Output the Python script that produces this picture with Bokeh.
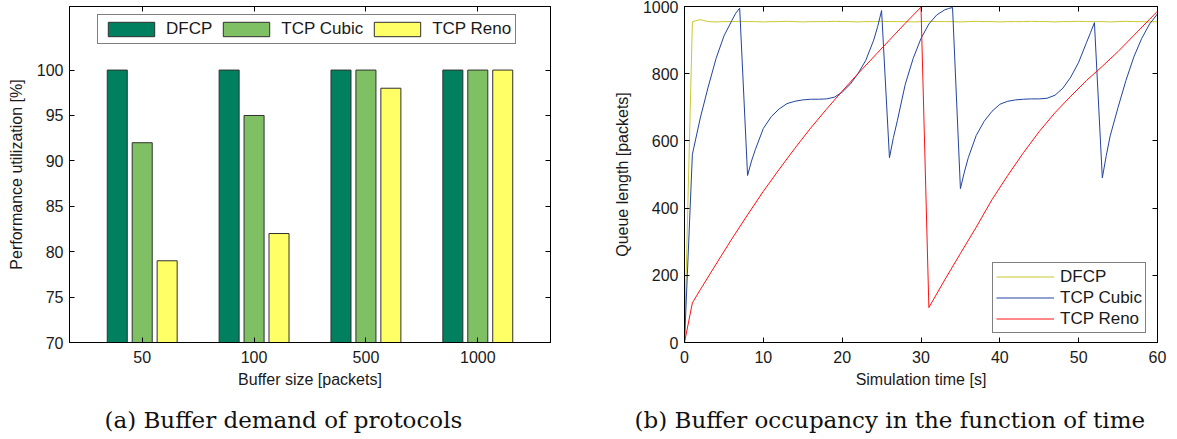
import numpy as np
from bokeh.plotting import figure
from bokeh.models import (FixedTicker, LinearAxis, Range1d, ColumnDataSource, Label)
from bokeh.layouts import row, column
from bokeh.transform import dodge
from bokeh.embed import file_html
from bokeh.resources import INLINE

# ---------------- data: panel (a) ----------------
buffer_sizes = ["50", "100", "500", "1000"]
dfcp_util = [100, 100, 100, 100]
cubic_util = [92, 95, 100, 100]
reno_util = [79, 82, 98, 100]

# ---------------- data: panel (b) ----------------
dfcp_time = [0, 1, 2, 3, 4, 5, 6, 7, 8, 9, 10, 11, 12, 13, 14, 15, 16, 17, 18, 19, 20,
             21, 22, 23, 24, 25, 26, 27, 28, 29, 30, 31, 32, 33, 34, 35, 36, 37, 38, 39, 40,
             41, 42, 43, 44, 45, 46, 47, 48, 49, 50, 51, 52, 53, 54, 55, 56, 57, 58, 59, 60]
dfcp_queue = [0, 955, 961, 955, 954, 955, 955, 956, 955, 955, 954, 955, 955, 956, 955, 954,
              955, 955, 955, 956, 955, 955, 954, 955, 955, 956, 955, 955, 955, 954, 955,
              956, 955, 955, 955, 954, 955, 956, 955, 955, 954, 955, 955, 955, 956, 955,
              955, 954, 955, 955, 956, 955, 955, 955, 954, 955, 956, 955, 955, 954, 955]

cubic_time = [0, 1, 2, 3, 4, 5, 6, 6.5, 7, 8, 8.5, 9, 10, 11, 12, 13, 14, 15, 16, 17, 18,
              19, 20, 21, 22, 23, 24, 24.5, 25, 26, 26.5, 27, 28, 29, 30, 31, 32, 33, 33.5,
              34, 35, 35.5, 36, 37, 38, 39, 40, 41, 42, 43, 44, 45, 46, 47, 48, 49, 50, 51,
              51.5, 52, 53, 53.5, 54, 55, 56, 57, 58, 59, 60]
cubic_queue = [0, 560, 668, 760, 845, 912, 958, 980, 995, 497, 540, 575, 637, 672, 695, 711,
               718, 722, 724, 724, 725, 730, 745, 768, 800, 840, 900, 940, 988, 550, 610,
               660, 768, 845, 905, 948, 975, 990, 994, 997, 458, 507, 550, 616, 658, 688,
               709, 718, 722, 724, 725, 725, 727, 736, 757, 790, 834, 893, 922, 952, 490,
               556, 615, 700, 780, 850, 905, 948, 978]

reno_time = [0, 1, 2, 4, 6, 8, 10, 12, 14, 16, 18, 20, 22, 24, 26, 28, 30, 31, 33, 35, 37,
             39, 41, 43, 45, 47, 49, 51, 53, 55, 57, 59, 60]
reno_queue = [0, 118, 157, 233, 308, 380, 450, 515, 578, 638, 694, 748, 800, 850, 900, 950,
              998, 104, 186, 265, 343, 425, 497, 565, 628, 684, 733, 780, 822, 866, 914,
              962, 986]

captions = ["(a) Buffer demand of protocols", "(b) Buffer occupancy in the function of time"]

# ---------------- styles ----------------
FONT = "Liberation Sans"
SERIF = "DejaVu Serif"
TXT = "#1a1a1a"
C_DFCP_BAR = "#00805f"
C_CUBIC_BAR = "#80c064"
C_RENO_BAR = "#ffff66"
C_DFCP_LINE = "#c8c832"
C_CUBIC_LINE = "#2243a0"
C_RENO_LINE = "#ff1010"

W1, W2 = 605, 564
PANEL_BOTTOM = 58
CAP_H = 439 - (6 + 336 + PANEL_BOTTOM)


def style_axes(p):
    p.grid.visible = False
    p.outline_line_color = "black"
    p.outline_line_width = 1
    p.background_fill_color = "white"
    p.border_fill_color = "white"
    for ax in p.below + p.left:
        ax.major_tick_in = 5
        ax.major_tick_out = 0
        ax.minor_tick_in = 0
        ax.minor_tick_out = 0
        ax.axis_line_color = "black"
        ax.major_tick_line_color = "black"
        ax.major_label_text_font = FONT
        ax.major_label_text_font_size = "16px"
        ax.major_label_text_color = TXT
        ax.axis_label_text_font = FONT
        ax.axis_label_text_font_size = "16px"
        ax.axis_label_text_font_style = "normal"
        ax.axis_label_text_color = TXT
    for ax in p.below:
        ax.major_label_standoff = 8
        ax.axis_label_standoff = 5
    for ax in p.left:
        ax.major_label_standoff = 6
        ax.axis_label_standoff = 9


def tick_only_axis(ticks):
    return LinearAxis(ticker=FixedTicker(ticks=ticks),
                      major_label_overrides={t: "" for t in ticks},
                      major_label_text_font_size="1px",
                      major_label_standoff=0, major_tick_in=5, major_tick_out=0,
                      minor_tick_in=0, minor_tick_out=0, axis_line_color="black",
                      major_tick_line_color="black")


def style_legend(lg, font_size):
    lg.label_text_font = FONT
    lg.label_text_font_size = font_size
    lg.label_text_color = TXT
    lg.border_line_color = "black"
    lg.background_fill_color = "white"
    lg.background_fill_alpha = 1
    lg.margin = 0


# ---------------- panel (a) ----------------
p1 = figure(frame_width=481, frame_height=336, x_range=Range1d(0.35, 4.65),
            y_range=Range1d(70, 107), output_backend="svg", toolbar_location=None,
            min_border_left=69, min_border_right=55, min_border_top=6,
            min_border_bottom=PANEL_BOTTOM)

positions = list(range(1, len(buffer_sizes) + 1))
src = ColumnDataSource(dict(x=positions, dfcp=dfcp_util, cubic=cubic_util, reno=reno_util))
bar_w = 0.179
off = 0.223
p1.vbar(x=dodge("x", -off), top="dfcp", bottom=0, width=bar_w, source=src,
        fill_color=C_DFCP_BAR, line_color="#303030", line_width=1, legend_label="DFCP")
p1.vbar(x=dodge("x", 0.0), top="cubic", bottom=0, width=bar_w, source=src,
        fill_color=C_CUBIC_BAR, line_color="#303030", line_width=1, legend_label="TCP Cubic")
p1.vbar(x=dodge("x", off), top="reno", bottom=0, width=bar_w, source=src,
        fill_color=C_RENO_BAR, line_color="#303030", line_width=1, legend_label="TCP Reno")

p1.xaxis.ticker = FixedTicker(ticks=positions)
p1.xaxis.major_label_overrides = {pos: lab for pos, lab in zip(positions, buffer_sizes)}
p1.yaxis.ticker = FixedTicker(ticks=[70, 75, 80, 85, 90, 95, 100])
p1.xaxis.axis_label = "Buffer size [packets]"
p1.yaxis.axis_label = "Performance utilization [%]"
p1.add_layout(tick_only_axis([70, 75, 80, 85, 90, 95, 100]), "right")
p1.add_layout(tick_only_axis(positions), "above")
style_axes(p1)

leg1 = p1.legend[0]
leg1.orientation = "horizontal"
leg1.location = (28, 298)
leg1.glyph_width = 58
leg1.glyph_height = 18
leg1.label_height = 16
leg1.label_width = 10
leg1.label_standoff = 6
leg1.spacing = 5
leg1.padding = 4
leg1.border_line_width = 1.5
style_legend(leg1, "17px")

# ---------------- panel (b) ----------------
p2 = figure(frame_width=473, frame_height=336, x_range=Range1d(0, 60),
            y_range=Range1d(0, 1000), output_backend="svg", toolbar_location=None,
            min_border_left=79, min_border_right=12, min_border_top=6,
            min_border_bottom=PANEL_BOTTOM)

p2.line(dfcp_time, dfcp_queue, line_color=C_DFCP_LINE, line_width=1, legend_label="DFCP")
p2.line(cubic_time, cubic_queue, line_color=C_CUBIC_LINE, line_width=1,
        legend_label="TCP Cubic")
p2.line(reno_time, reno_queue, line_color=C_RENO_LINE, line_width=1,
        legend_label="TCP Reno")

xt = [0, 10, 20, 30, 40, 50, 60]
yt = [0, 200, 400, 600, 800, 1000]
p2.xaxis.ticker = FixedTicker(ticks=xt)
p2.yaxis.ticker = FixedTicker(ticks=yt)
p2.xaxis.axis_label = "Simulation time [s]"
p2.yaxis.axis_label = "Queue length [packets]"
p2.add_layout(tick_only_axis(yt), "right")
p2.add_layout(tick_only_axis(xt), "above")
style_axes(p2)

leg2 = p2.legend[0]
leg2.orientation = "vertical"
leg2.location = (308, 9)
leg2.glyph_width = 58
leg2.glyph_height = 21
leg2.label_height = 18
leg2.label_width = 10
leg2.label_standoff = 6
leg2.spacing = 0
leg2.padding = 3
leg2.border_line_width = 1.5
style_legend(leg2, "17px")

# ---------------- captions strip ----------------
cap = figure(width=W1 + W2, height=CAP_H,
             x_range=Range1d(0, 1), y_range=Range1d(0, 1), x_axis_type=None,
             y_axis_type=None, output_backend="svg", toolbar_location=None,
             min_border=0)
cap.grid.visible = False
cap.outline_line_color = None
cap.background_fill_color = "white"
cap.border_fill_color = "white"
for text, sx in zip(captions, [104, 634]):
    cap.add_layout(Label(x=sx, y=20, x_units="screen", y_units="screen", text=text,
                         text_font=SERIF, text_font_size="23px", text_color="#111111",
                         text_align="left", text_baseline="alphabetic"))

layout = column(row(p1, p2), cap)

open("out.html", "w").write(file_html(layout, INLINE))
